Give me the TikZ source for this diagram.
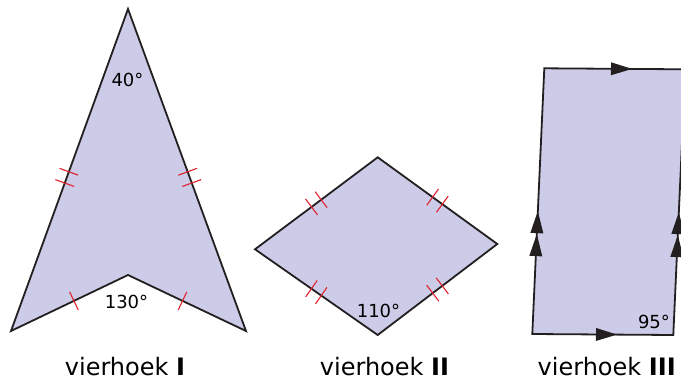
\documentclass[tikz,border=0pt]{standalone}
\usepackage{fontspec}
\setmainfont{DejaVu Sans}
\usetikzlibrary{decorations.markings}
\definecolor{quadfill}{HTML}{CCCCE8}
\definecolor{edgecol}{HTML}{231F20}
\definecolor{tickred}{RGB}{224,32,44}
\tikzset{
  quad/.style={fill=quadfill,draw=edgecol,line width=1.8pt,line join=miter},
  onetick/.style={postaction={decorate},decoration={markings,
    mark=at position #1 with {\draw[tickred,line width=1.1pt] (0,-10pt) -- (0,10pt);}}},
  twotick/.style={postaction={decorate},decoration={markings,
    mark=at position #1 with {\draw[tickred,line width=1.1pt] (-6pt,-10pt) -- (-6pt,10pt);
      \draw[tickred,line width=1.1pt] (6pt,-10pt) -- (6pt,10pt);}}},
  onearr/.style={postaction={decorate},decoration={markings,
    mark=at position #1 with {\fill[edgecol] (0pt,0pt) -- (-21pt,6.5pt) -- (-21pt,-6.5pt) -- cycle;}}},
  twoarr/.style={postaction={decorate},decoration={markings,
    mark=at position #1 with {\fill[edgecol] (0pt,0pt) -- (-22pt,6.5pt) -- (-22pt,-6.5pt) -- cycle;
      \fill[edgecol] (-23pt,0pt) -- (-45pt,6.5pt) -- (-45pt,-6.5pt) -- cycle;}}},
  anglab/.style={font=\fontsize{18}{20}\selectfont,inner sep=0pt},
  namelab/.style={font=\fontsize{24}{28}\selectfont,inner sep=0pt,anchor=base},
}
\begin{document}
\begin{tikzpicture}[x=1pt,y=-1pt]
\useasboundingbox (0,0) rectangle (681,380);
\clip (0,0) rectangle (681,380);
% vierhoek I
\coordinate (aT) at (128,9);
\coordinate (aL) at (11,331);
\coordinate (aN) at (128,275);
\coordinate (aR) at (246,331);
\draw[quad] (aT) -- (aL) -- (aN) -- (aR) -- cycle;
\path[twotick=0.523] (aT) -- (aL);
\path[twotick=0.523] (aT) -- (aR);
\path[onetick=0.538] (aL) -- (aN);
\path[onetick=0.538] (aR) -- (aN);
\node[anglab] (a40) at (127.5,80) {40°};
\node[anglab] (a130) at (126.5,301.5) {130°};
\node[namelab] (n1) at (125,375) {vierhoek \textbf{I}};
% vierhoek II
\coordinate (bT) at (377.7,157.3);
\coordinate (bL) at (255,249.3);
\coordinate (bB) at (377.7,335);
\coordinate (bR) at (497.3,244);
\draw[quad] (bT) -- (bL) -- (bB) -- (bR) -- cycle;
\path[twotick=0.5] (bL) -- (bT);
\path[twotick=0.5] (bT) -- (bR);
\path[twotick=0.5] (bL) -- (bB);
\path[twotick=0.5] (bB) -- (bR);
\node[anglab] (b110) at (378.5,310.5) {110°};
\node[namelab] (n2) at (384.5,375) {vierhoek \textbf{II}};
% vierhoek III
\coordinate (cTL) at (544.3,68.3);
\coordinate (cTR) at (685.3,69.3);
\coordinate (cBL) at (532.3,334);
\coordinate (cBR) at (673.3,335);
\draw[quad] (cBL) -- (cTL) -- (cTR) -- (cBR) -- cycle;
\path[onearr=87.7pt] (cTL) -- (cTR);
\path[onearr=84.7pt] (cBL) -- (cBR);
\path[twoarr=123pt] (cBL) -- (cTL);
\path[twoarr=123pt] (cBR) -- (cTR);
\node[anglab] (c95) at (654,322) {95°};
\node[namelab] (n3) at (606.7,375) {vierhoek \textbf{III}};
\end{tikzpicture}
\end{document}
